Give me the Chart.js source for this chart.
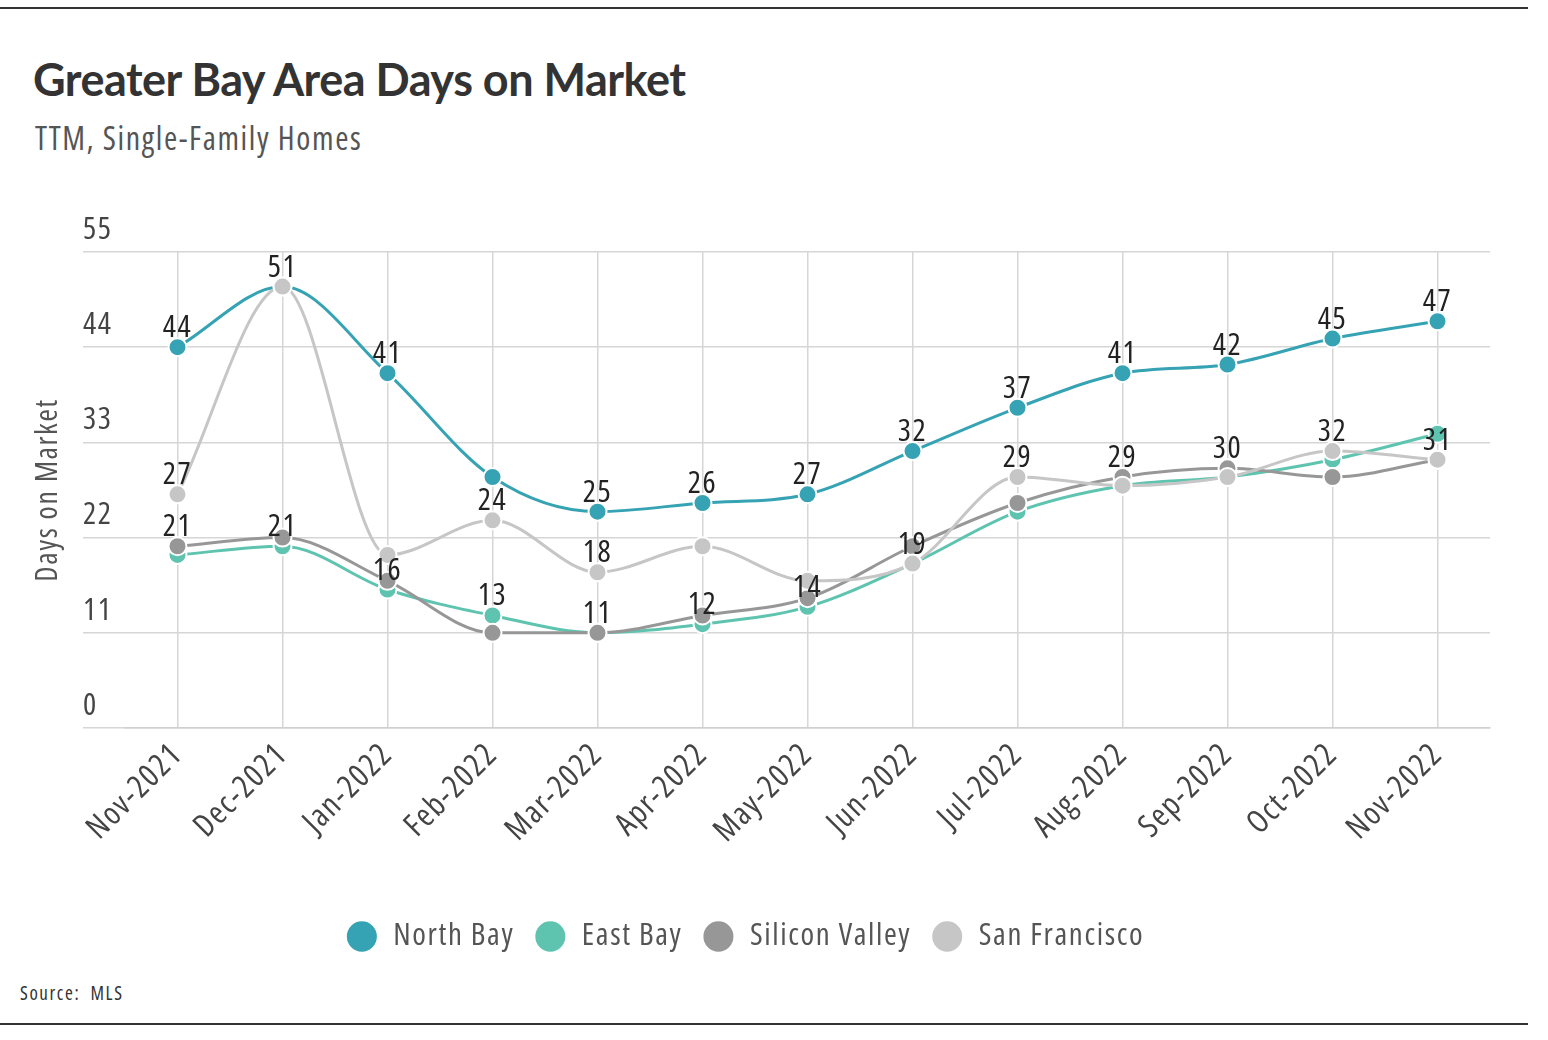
<!DOCTYPE html>
<html>
<head>
<meta charset="utf-8">
<script src="https://cdn.jsdelivr.net/npm/chart.js@4"></script>
<style>
  body { margin: 0; background: #fff; width: 1548px; height: 1040px; position: relative; overflow: hidden; }
  .rule { position: absolute; left: 0; width: 1528px; height: 2px; background: #333; }
  #title { position: absolute; left: 33px; top: 52px; font: 700 45px Lato, sans-serif; color: #333; letter-spacing: -0.5px; white-space: nowrap; }
  #subtitle { position: absolute; left: 35px; top: 116px; font-size: 32px; color: #555; white-space: nowrap; }
  #source { position: absolute; left: 20px; top: 980px; font-size: 19px; color: #333; }
  #myChart { position: absolute; left: 0; top: 170px; }
</style>
</head>
<body>
<div class="rule" style="top:7px"></div>
<div id="title">Greater Bay Area Days on Market</div>
<div id="subtitle">TTM, Single-Family Homes</div>
<canvas id="myChart" width="1548" height="800"></canvas>
<div id="source">Source:&nbsp; MLS</div>
<div class="rule" style="top:1023px"></div>

<script>
var months = ["Nov-2021", "Dec-2021", "Jan-2022", "Feb-2022", "Mar-2022", "Apr-2022", "May-2022",
  "Jun-2022", "Jul-2022", "Aug-2022", "Sep-2022", "Oct-2022", "Nov-2022"];
var yTicks = [0, 11, 22, 33, 44, 55];

var northBay = [44, 51, 41, 29, 25, 26, 27, 32, 37, 41, 42, 45, 47];
var eastBay = [20, 21, 16, 13, 11, 12, 14, 19, 25, 28, 29, 31, 34];
var siliconValley = [21, 22, 17, 11, 11, 13, 15, 21, 26, 29, 30, 29, 31];
var sanFrancisco = [27, 51, 20, 24, 18, 21, 17, 19, 29, 28, 29, 32, 31];

// which points carry a value label (the rest are hidden where labels collide)
var northBayLabels = [0, 1, 2, 4, 5, 6, 7, 8, 9, 10, 11, 12];
var eastBayLabels = [1, 2, 3, 4, 5, 6, 7];
var siliconValleyLabels = [0, 9, 10, 12];
var sanFranciscoLabels = [0, 3, 4, 8, 11];

// find a narrow face: semi-condensed if installed, else condensed with a bit of letter spacing
function pickNarrow() {
  var c = document.createElement("canvas").getContext("2d");
  var s = "Silicon Valley Nov-2021";
  var tries = [
    ["'Noto Sans'", "semi-condensed", "87.5%", 0, 0.82, 0.95],
    ["'Open Sans'", "semi-condensed", "87.5%", 0, 0.82, 0.95],
    ["'Open Sans'", "condensed", "75%", 1.6, 0.6, 0.85],
    ["'Noto Sans'", "condensed", "75%", 1.6, 0.6, 0.85]
  ];
  for (var i = 0; i < tries.length; i++) {
    var t = tries[i];
    c.font = "30px " + t[0];
    var w0 = c.measureText(s).width;
    c.font = t[1] + " 30px " + t[0];
    var r = c.measureText(s).width / w0;
    if (r > t[4] && r < t[5]) return { family: t[0] + ", sans-serif", stretch: t[1], css: t[2], spacing: t[3] };
  }
  return { family: "'DejaVu Sans Condensed', 'DejaVu Sans', sans-serif", stretch: "normal", css: "normal", spacing: 0 };
}
var narrow = pickNarrow();

function nfont(size) {
  return { family: narrow.family, size: size, weight: narrow.stretch };
}

["subtitle", "source"].forEach(function (id) {
  var el = document.getElementById(id);
  el.style.fontFamily = narrow.family;
  el.style.fontStretch = narrow.css;
  el.style.letterSpacing = narrow.spacing + "px";
});

function series(label, data, color, order, shown) {
  return {
    label: label,
    data: data,
    shownLabels: shown,
    borderColor: color,
    backgroundColor: color,
    pointBackgroundColor: color,
    pointBorderColor: "#fff",
    pointBorderWidth: 2,
    pointRadius: 9,
    pointHoverRadius: 9,
    borderWidth: 3,
    cubicInterpolationMode: "monotone",
    fill: false,
    order: order
  };
}

// canvas letter spacing for the narrow face
var spacing = {
  id: "spacing",
  beforeUpdate: function (chart) { chart.ctx.letterSpacing = narrow.spacing + "px"; },
  beforeDraw: function (chart) { chart.ctx.letterSpacing = narrow.spacing + "px"; }
};

// value labels above the points
var valueLabels = {
  id: "valueLabels",
  afterDatasetsDraw: function (chart) {
    var c = chart.ctx;
    c.save();
    c.font = narrow.stretch + " 31px " + narrow.family;
    c.fillStyle = "#222";
    c.textAlign = "center";
    c.textBaseline = "alphabetic";
    chart.data.datasets.forEach(function (ds, di) {
      var meta = chart.getDatasetMeta(di);
      ds.shownLabels.forEach(function (i) {
        var pt = meta.data[i];
        c.fillText(String(ds.data[i]), pt.x, pt.y - 10);
      });
    });
    c.restore();
  }
};

var ctx = document.getElementById("myChart").getContext("2d");

new Chart(ctx, {
  type: "line",
  data: {
    labels: months,
    datasets: [
      series("North Bay", northBay, "#36a3b4", 4, northBayLabels),
      series("East Bay", eastBay, "#5ec4b0", 3, eastBayLabels),
      series("Silicon Valley", siliconValley, "#979797", 2, siliconValleyLabels),
      series("San Francisco", sanFrancisco, "#c6c6c6", 1, sanFranciscoLabels)
    ]
  },
  options: {
    responsive: false,
    animation: false,
    layout: { padding: { top: 82, right: 58, left: 0, bottom: 8 } },
    scales: {
      x: {
        offset: true,
        grid: { offset: false, color: "#d6d6d6", lineWidth: 1.5, drawTicks: false },
        border: { color: "#d0d0d0", width: 1.5 },
        ticks: {
          font: nfont(32),
          color: "#444",
          minRotation: 45,
          maxRotation: 45,
          padding: 8
        },
        afterFit: function (scale) { scale.height = 173; }
      },
      y: {
        min: 0,
        max: 55,
        afterBuildTicks: function (scale) {
          scale.ticks = yTicks.map(function (v) { return { value: v }; });
        },
        afterFit: function (scale) { scale.width = 125; },
        grid: { color: "#d6d6d6", lineWidth: 1.5, tickLength: 42, tickColor: "#d6d6d6" },
        border: { display: false },
        ticks: {
          mirror: true,
          padding: -42,
          labelOffset: -22,
          font: nfont(31),
          color: "#444"
        },
        title: {
          display: true,
          text: "Days on Market",
          font: nfont(30),
          color: "#555",
          padding: { top: 30, bottom: 17 }
        }
      }
    },
    plugins: {
      tooltip: { enabled: false },
      legend: {
        position: "bottom",
        labels: {
          usePointStyle: true,
          pointStyle: "circle",
          boxHeight: 23,
          pointStyleWidth: 32,
          padding: 20,
          font: nfont(31),
          color: "#555",
          sort: function (a, b) { return a.datasetIndex - b.datasetIndex; }
        }
      }
    }
  },
  plugins: [spacing, valueLabels]
});
</script>
</body>
</html>
